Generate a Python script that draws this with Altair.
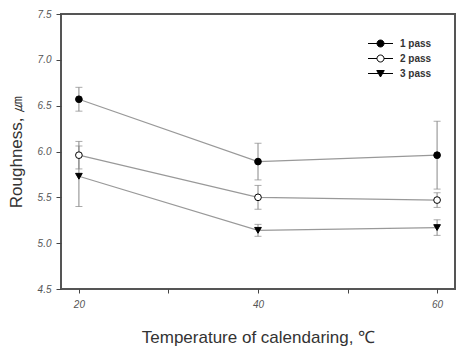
import altair as alt
import pandas as pd

temps = [20, 40, 60]
series = ["1 pass", "2 pass", "3 pass"]
mean_1 = [6.57, 5.89, 5.96]
err_1 = [0.13, 0.20, 0.37]
mean_2 = [5.96, 5.50, 5.47]
err_2 = [0.15, 0.13, 0.08]
mean_3 = [5.73, 5.14, 5.17]
err_3 = [0.33, 0.065, 0.085]
y_ticks = [4.5, 5.0, 5.5, 6.0, 6.5, 7.0, 7.5]
x_ticks = [20, 30, 40, 50, 60]

rows = []
for name, means, errs in zip(series, [mean_1, mean_2, mean_3], [err_1, err_2, err_3]):
    for t, m, e in zip(temps, means, errs):
        rows.append({"temp": t, "series": name, "mean": m, "lo": m - e, "hi": m + e})
df = pd.DataFrame(rows)

xs = alt.Scale(domain=[18, 62], nice=False, zero=False)
ys = alt.Scale(domain=[4.5, 7.5], nice=False, zero=False)

x_enc = alt.X("temp:Q", scale=xs, title="Temperature of calendaring, ℃",
              axis=alt.Axis(values=x_ticks, labelExpr="datum.value % 20 == 0 ? datum.value : ''",
                            grid=False, domain=False, tickSize=4, tickColor="#444",
                            labelPadding=6, titlePadding=20))
y_enc = alt.Y("mean:Q", scale=ys, title="Roughness, ㎛",
              axis=alt.Axis(values=y_ticks, format=".1f", grid=False, domain=False,
                            tickSize=5, tickColor="#444", labelPadding=5, titlePadding=12))

base = alt.Chart(df)

lines = base.mark_line(color="#999999", strokeWidth=1.2).encode(
    x=x_enc, y=y_enc, detail="series:N")

rules = base.mark_rule(color="#888888", strokeWidth=1).encode(
    x="temp:Q", y="lo:Q", y2="hi:Q")
cap_lo = base.mark_tick(color="#888888", orient="horizontal", size=7, thickness=1).encode(
    x="temp:Q", y="lo:Q")
cap_hi = base.mark_tick(color="#888888", orient="horizontal", size=7, thickness=1).encode(
    x="temp:Q", y="hi:Q")

points = base.mark_point(size=45, stroke="black", strokeWidth=1, opacity=1).encode(
    x="temp:Q", y="mean:Q",
    shape=alt.Shape("series:N", scale=alt.Scale(domain=series, range=["circle", "circle", "triangle-down"]), legend=None),
    fill=alt.Fill("series:N", scale=alt.Scale(domain=series, range=["black", "white", "black"]), legend=None),
)

paths = [
    "M-2.5,0H2.5M-0.7,0A0.7,0.7,0,1,0,0.7,0A0.7,0.7,0,1,0,-0.7,0Z",
    "M-2.5,0H-0.7M0.7,0H2.5M-0.7,0A0.7,0.7,0,1,0,0.7,0A0.7,0.7,0,1,0,-0.7,0Z",
    "M-2.5,0H2.5M-0.75,-0.6L0.75,-0.6L0,0.7Z",
]

def make_legend():
    return alt.Legend(title=None, orient="none", legendX=314, legendY=24,
                      symbolSize=100, labelFontSize=10, labelColor="#333",
                      labelFont="Liberation Sans", labelFontWeight="bold",
                      rowPadding=4, labelOffset=14, symbolStrokeWidth=1, symbolOpacity=1)

legend_layer = base.transform_filter("false").mark_point(strokeWidth=1, opacity=1, size=100).encode(
    x="temp:Q", y="mean:Q",
    shape=alt.Shape("series:N", scale=alt.Scale(domain=series, range=paths), legend=make_legend()),
    fill=alt.Fill("series:N", scale=alt.Scale(domain=series, range=["black", "white", "black"]), legend=make_legend()),
    stroke=alt.Stroke("series:N", scale=alt.Scale(domain=series, range=["black", "black", "black"]), legend=make_legend()),
)

chart = alt.layer(lines, rules, cap_lo, cap_hi, points, legend_layer).resolve_scale(
    shape="independent", fill="independent", stroke="independent"
).properties(
    width=394, height=275,
    autosize=alt.AutoSizeParams(type="none"),
    padding={"left": 61, "top": 14, "right": 12, "bottom": 65},
    background="white",
).configure_view(
    stroke="#555555", strokeWidth=2
).configure_axis(
    labelFont="Liberation Sans", labelFontSize=10, labelColor="#555555", labelFontStyle="italic",
    titleFont="Liberation Sans", titleFontSize=17, titleFontWeight="normal", titleColor="#333333",
)

chart.save("out.html", embed_options={"renderer": "svg", "actions": False})
